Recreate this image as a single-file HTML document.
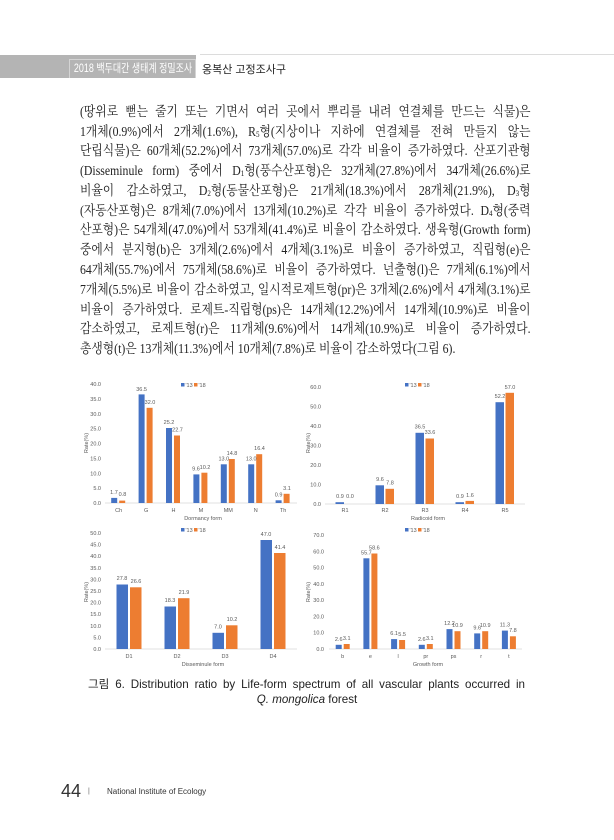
<!DOCTYPE html>
<html><head><meta charset="utf-8"><style>
body{margin:0;width:614px;height:840px;background:#fff;position:relative;overflow:hidden}
.ln{position:absolute;left:80px;width:512px;transform:scaleX(0.88);transform-origin:0 0;font-family:"Liberation Serif","Noto Serif CJK KR","Noto Serif CJK SC",serif;font-size:13.4px;color:#222;text-align:justify;text-align-last:justify;white-space:nowrap;line-height:16px}
.ln.last{text-align-last:left}
sub{font-size:8px;vertical-align:-1px}
svg text{font-family:"Liberation Sans","Noto Sans CJK KR",sans-serif}
</style></head><body>
<div style="position:absolute;left:0;top:55px;width:196px;height:23px;background:#b4b4b4"></div>
<div style="position:absolute;left:69px;top:59px;width:127px;height:19px;border:1px solid #d4d4d4;border-bottom:none;box-sizing:border-box;overflow:hidden"><div style="color:#fff;font:11.5px 'Liberation Sans','Noto Sans CJK KR',sans-serif;line-height:18px;padding-left:5px;white-space:nowrap;transform:scaleX(0.78);transform-origin:0 0">2018 백두대간 생태계 정밀조사</div></div>
<div style="position:absolute;left:200px;top:54px;width:414px;height:1px;background:#dcdcdc"></div>
<div style="position:absolute;left:202px;top:61px;font:11px 'Liberation Sans','Noto Sans CJK KR',sans-serif;color:#222;white-space:nowrap">옹복산 고정조사구</div>

<div class="ln" style="top:104px">(땅위로 뻗는 줄기 또는 기면서 여러 곳에서 뿌리를 내려 연결체를 만드는 식물)은</div>
<div class="ln" style="top:124px">1개체(0.9%)에서 2개체(1.6%), R<sub>5</sub>형(지상이나 지하에 연결체를 전혀 만들지 않는</div>
<div class="ln" style="top:143px">단립식물)은 60개체(52.2%)에서 73개체(57.0%)로 각각 비율이 증가하였다. 산포기관형</div>
<div class="ln" style="top:163px">(Disseminule form) 중에서 D<sub>1</sub>형(풍수산포형)은 32개체(27.8%)에서 34개체(26.6%)로</div>
<div class="ln" style="top:183px">비율이 감소하였고, D<sub>2</sub>형(동물산포형)은 21개체(18.3%)에서 28개체(21.9%), D<sub>3</sub>형</div>
<div class="ln" style="top:203px">(자동산포형)은 8개체(7.0%)에서 13개체(10.2%)로 각각 비율이 증가하였다. D<sub>4</sub>형(중력</div>
<div class="ln" style="top:222px">산포형)은 54개체(47.0%)에서 53개체(41.4%)로 비율이 감소하였다. 생육형(Growth form)</div>
<div class="ln" style="top:242px">중에서 분지형(b)은 3개체(2.6%)에서 4개체(3.1%)로 비율이 증가하였고, 직립형(e)은</div>
<div class="ln" style="top:262px">64개체(55.7%)에서 75개체(58.6%)로 비율이 증가하였다. 넌출형(l)은 7개체(6.1%)에서</div>
<div class="ln" style="top:282px">7개체(5.5%)로 비율이 감소하였고, 일시적로제트형(pr)은 3개체(2.6%)에서 4개체(3.1%)로</div>
<div class="ln" style="top:302px">비율이 증가하였다. 로제트-직립형(ps)은 14개체(12.2%)에서 14개체(10.9%)로 비율이</div>
<div class="ln" style="top:321px">감소하였고, 로제트형(r)은 11개체(9.6%)에서 14개체(10.9%)로 비율이 증가하였다.</div>
<div class="ln last" style="top:341px">총생형(t)은 13개체(11.3%)에서 10개체(7.8%)로 비율이 감소하였다(그림 6).</div>

<svg style="position:absolute;left:0;top:0" width="614" height="840" font-size="5.5" fill="#595959">
<g stroke="#d9d9d9" stroke-width="0.8"><line x1="105" y1="503" x2="297" y2="503"/><line x1="325" y1="504" x2="525" y2="504"/><line x1="105" y1="649" x2="297" y2="649"/><line x1="329" y1="649" x2="522" y2="649"/></g>
<g text-anchor="end"><text x="101" y="505">0.0</text><text x="101" y="490">5.0</text><text x="101" y="475.3">10.0</text><text x="101" y="460.4">15.0</text><text x="101" y="445.5">20.0</text><text x="101" y="430.6">25.0</text><text x="101" y="415.8">30.0</text><text x="101" y="400.9">35.0</text><text x="101" y="386">40.0</text></g>
<g fill="#4472c4"><rect x="111.2" y="497.9" width="6" height="5.1"/><rect x="138.6" y="394.4" width="6" height="108.6"/><rect x="166" y="428" width="6" height="75"/><rect x="193.4" y="474.4" width="6" height="28.6"/><rect x="220.8" y="464.3" width="6" height="38.7"/><rect x="248.2" y="464.3" width="6" height="38.7"/><rect x="275.6" y="500.3" width="6" height="2.7"/></g>
<g fill="#ed7d31"><rect x="119.2" y="500.6" width="6" height="2.4"/><rect x="146.6" y="407.8" width="6" height="95.2"/><rect x="174" y="435.5" width="6" height="67.5"/><rect x="201.4" y="472.7" width="6" height="30.3"/><rect x="228.8" y="459" width="6" height="44"/><rect x="256.2" y="454.2" width="6" height="48.8"/><rect x="283.6" y="493.8" width="6" height="9.2"/></g>
<g text-anchor="middle"><text x="114" y="494">1.7</text><text x="122.5" y="496">0.8</text><text x="141.6" y="391">36.5</text><text x="150" y="404">32.0</text><text x="169" y="424">25.2</text><text x="177.5" y="431.5">22.7</text><text x="196" y="470.5">9.6</text><text x="205" y="469">10.2</text><text x="223.8" y="460.5">13.0</text><text x="232" y="455">14.8</text><text x="251.2" y="460.5">13.0</text><text x="259.5" y="450">16.4</text><text x="278.6" y="496.5">0.9</text><text x="287" y="490">3.1</text>
<text x="118.7" y="512">Ch</text><text x="146.1" y="512">G</text><text x="173.5" y="512">H</text><text x="200.9" y="512">M</text><text x="228.3" y="512">MM</text><text x="255.7" y="512">N</text><text x="283.1" y="512">Th</text><text x="203" y="520">Dormancy form</text>
<text transform="translate(88,443) rotate(-90)">Rate(%)</text></g>
<rect x="181" y="383" width="3.5" height="3.5" fill="#4472c4"/><text x="185.5" y="387">'13</text><rect x="194" y="383" width="3.5" height="3.5" fill="#ed7d31"/><text x="198.5" y="387">'18</text>
<g text-anchor="end"><text x="321" y="506">0.0</text><text x="321" y="486.5">10.0</text><text x="321" y="467">20.0</text><text x="321" y="447.5">30.0</text><text x="321" y="428">40.0</text><text x="321" y="408.5">50.0</text><text x="321" y="389">60.0</text></g>
<g fill="#4472c4"><rect x="335.5" y="502.2" width="8.5" height="1.8"/><rect x="375.5" y="485.3" width="8.5" height="18.7"/><rect x="415.5" y="432.8" width="8.5" height="71.2"/><rect x="455.5" y="502.2" width="8.5" height="1.8"/><rect x="495.5" y="402.2" width="8.5" height="101.8"/></g>
<g fill="#ed7d31"><rect x="385.5" y="488.8" width="8.5" height="15.2"/><rect x="425.5" y="438.5" width="8.5" height="65.5"/><rect x="465.5" y="500.9" width="8.5" height="3.1"/><rect x="505.5" y="392.8" width="8.5" height="111.2"/></g>
<g text-anchor="middle"><text x="340" y="498">0.9</text><text x="350" y="498">0.0</text><text x="380" y="481">9.6</text><text x="390" y="484.5">7.8</text><text x="420" y="428.5">36.5</text><text x="430" y="434">33.6</text><text x="460" y="498">0.9</text><text x="470" y="497">1.6</text><text x="500" y="398">52.2</text><text x="510" y="389">57.0</text>
<text x="345" y="512">R1</text><text x="385" y="512">R2</text><text x="425" y="512">R3</text><text x="465" y="512">R4</text><text x="505" y="512">R5</text><text x="428" y="520">Radicoid form</text>
<text transform="translate(310,443) rotate(-90)">Rate(%)</text></g>
<rect x="405" y="383" width="3.5" height="3.5" fill="#4472c4"/><text x="409.5" y="387">'13</text><rect x="418" y="383" width="3.5" height="3.5" fill="#ed7d31"/><text x="422.5" y="387">'18</text>
<g text-anchor="end"><text x="101" y="651">0.0</text><text x="101" y="639.4">5.0</text><text x="101" y="627.8">10.0</text><text x="101" y="616.2">15.0</text><text x="101" y="604.6">20.0</text><text x="101" y="593">25.0</text><text x="101" y="581.4">30.0</text><text x="101" y="569.8">35.0</text><text x="101" y="558.2">40.0</text><text x="101" y="546.6">45.0</text><text x="101" y="535">50.0</text></g>
<g fill="#4472c4"><rect x="116.5" y="584.5" width="11.5" height="64.5"/><rect x="164.5" y="606.5" width="11.5" height="42.5"/><rect x="212.5" y="632.8" width="11.5" height="16.2"/><rect x="260.5" y="540" width="11.5" height="109"/></g>
<g fill="#ed7d31"><rect x="130" y="587.3" width="11.5" height="61.7"/><rect x="178" y="598.2" width="11.5" height="50.8"/><rect x="226" y="625.3" width="11.5" height="23.7"/><rect x="274" y="553" width="11.5" height="96"/></g>
<g text-anchor="middle"><text x="122" y="580">27.8</text><text x="136" y="583">26.6</text><text x="170" y="602">18.3</text><text x="184" y="594">21.9</text><text x="218" y="628.5">7.0</text><text x="232" y="621">10.2</text><text x="266" y="536">47.0</text><text x="280" y="549">41.4</text>
<text x="129" y="658">D1</text><text x="177" y="658">D2</text><text x="225" y="658">D3</text><text x="273" y="658">D4</text><text x="203" y="666">Disseminule form</text>
<text transform="translate(88,592) rotate(-90)">Rate(%)</text></g>
<rect x="181" y="528" width="3.5" height="3.5" fill="#4472c4"/><text x="185.5" y="532">'13</text><rect x="194" y="528" width="3.5" height="3.5" fill="#ed7d31"/><text x="198.5" y="532">'18</text>
<g text-anchor="end"><text x="324" y="651">0.0</text><text x="324" y="634.7">10.0</text><text x="324" y="618.4">20.0</text><text x="324" y="602.1">30.0</text><text x="324" y="585.8">40.0</text><text x="324" y="569.6">50.0</text><text x="324" y="553.3">60.0</text><text x="324" y="537">70.0</text></g>
<g fill="#4472c4"><rect x="335.7" y="644.8" width="6" height="4.2"/><rect x="363.4" y="558.3" width="6" height="90.7"/><rect x="391.1" y="639.1" width="6" height="9.9"/><rect x="418.8" y="644.8" width="6" height="4.2"/><rect x="446.5" y="629.1" width="6" height="19.9"/><rect x="474.2" y="633.4" width="6" height="15.6"/><rect x="501.9" y="630.6" width="6" height="18.4"/></g>
<g fill="#ed7d31"><rect x="343.7" y="644" width="6" height="5"/><rect x="371.4" y="553.5" width="6" height="95.5"/><rect x="399.1" y="640" width="6" height="9"/><rect x="426.8" y="644" width="6" height="5"/><rect x="454.5" y="631.2" width="6" height="17.8"/><rect x="482.2" y="631.2" width="6" height="17.8"/><rect x="509.9" y="636.3" width="6" height="12.7"/></g>
<g text-anchor="middle"><text x="338.7" y="641">2.6</text><text x="346.7" y="640">3.1</text><text x="366.4" y="554.5">55.7</text><text x="374.4" y="549.5">58.6</text><text x="394.1" y="635">6.1</text><text x="402.1" y="636">5.5</text><text x="421.8" y="641">2.6</text><text x="429.8" y="640">3.1</text><text x="449.5" y="625">12.2</text><text x="457.5" y="627">10.9</text><text x="477.2" y="629.5">9.6</text><text x="485.2" y="627">10.9</text><text x="504.9" y="626.5">11.3</text><text x="512.9" y="632">7.8</text>
<text x="342.7" y="658">b</text><text x="370.4" y="658">e</text><text x="398.1" y="658">l</text><text x="425.8" y="658">pr</text><text x="453.5" y="658">ps</text><text x="481.2" y="658">r</text><text x="508.9" y="658">t</text><text x="428" y="666">Growth form</text>
<text transform="translate(310,592) rotate(-90)">Rate(%)</text></g>
<rect x="405" y="528" width="3.5" height="3.5" fill="#4472c4"/><text x="409.5" y="532">'13</text><rect x="418" y="528" width="3.5" height="3.5" fill="#ed7d31"/><text x="422.5" y="532">'18</text>
</svg>

<div style="position:absolute;left:88px;top:676px;width:437px;font:11.6px 'Liberation Sans','Noto Sans CJK KR',sans-serif;color:#222;text-align:justify;text-align-last:justify;white-space:nowrap">그림 6. Distribution ratio by Life-form spectrum of all vascular plants occurred in</div>
<div style="position:absolute;left:0;top:693px;width:614px;text-align:center;font:11.6px 'Liberation Sans',sans-serif;color:#222"><i>Q. mongolica</i> forest</div>

<div style="position:absolute;left:61px;top:781px;font:18px 'Liberation Sans',sans-serif;color:#333">44</div>
<div style="position:absolute;left:88px;top:788px;font:7px 'Liberation Sans',sans-serif;color:#666">|</div>
<div style="position:absolute;left:107px;top:787px;font:8px 'Liberation Sans',sans-serif;color:#333">National Institute of Ecology</div>
</body></html>
